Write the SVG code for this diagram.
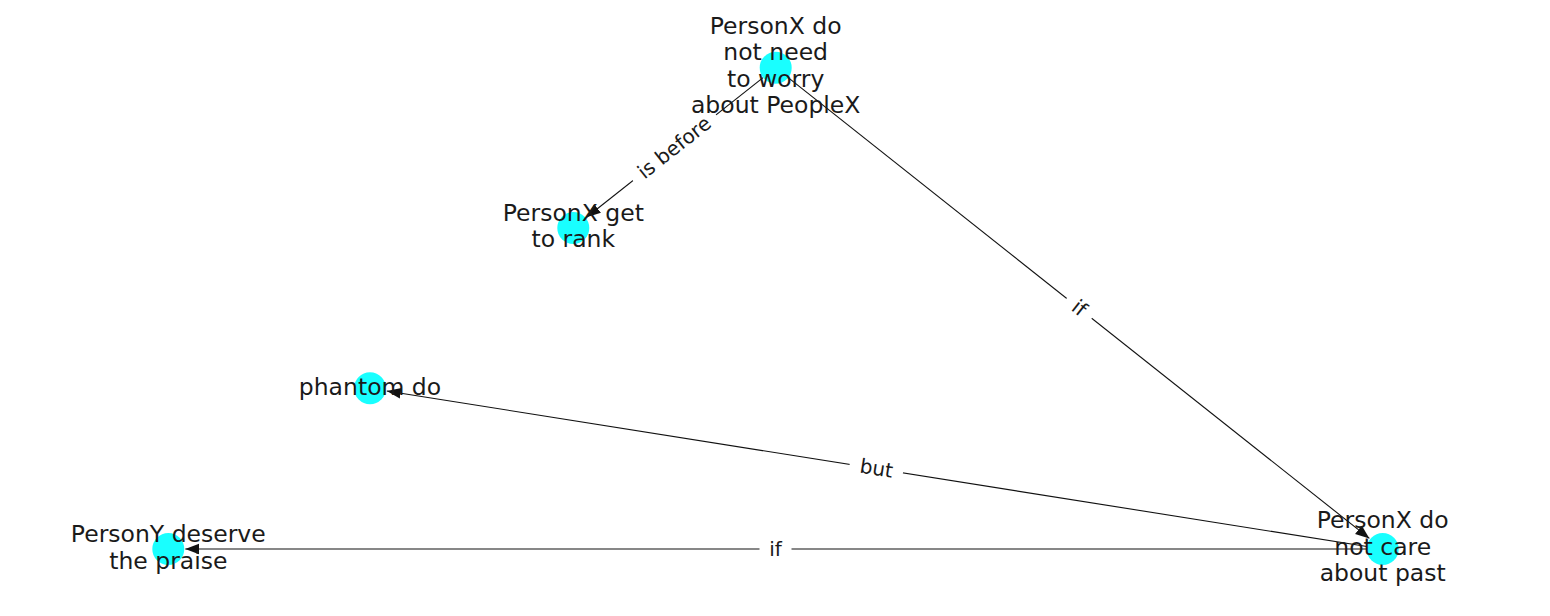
<svg xmlns="http://www.w3.org/2000/svg" width="1550" height="616" viewBox="0 0 1550 616">
<style>
.node circle{fill:#00ffff;fill-opacity:0.9}
.node text{font-family:"DejaVu Sans",sans-serif;font-size:23.5px;fill:#1a1a1a;text-anchor:middle}
.edge line{stroke:#111;stroke-width:1.1;marker-end:url(#arrow)}
.elabel rect{fill:#fff}
.elabel text{font-family:"DejaVu Sans",sans-serif;font-size:20px;fill:#1a1a1a;text-anchor:middle}
</style>
<defs>
<marker id="arrow" markerUnits="userSpaceOnUse" markerWidth="14" markerHeight="12" viewBox="0 0 13 10" refX="13" refY="5" orient="auto">
<path d="M0,0 L13,5 L0,10 Z" fill="#111"/>
</marker>
</defs>
<rect width="1550" height="616" fill="#fff"/>
<g id="edges">
<g class="edge"><line x1="763.1" y1="77.6" x2="586.6" y2="217.2"/></g>
<g class="edge"><line x1="788.2" y1="77.6" x2="1369.4" y2="538.4"/></g>
<g class="edge"><line x1="1366.9" y1="546.5" x2="386.8" y2="391.0"/></g>
<g class="edge"><line x1="1366.7" y1="549" x2="185.3" y2="549"/></g>
<g class="elabel" transform="translate(674.5 147.7) rotate(-38.3)"><rect x="-53" y="-14" width="106" height="28" rx="4"/><text y="6.5">is before</text></g>
<g class="elabel" transform="translate(1079.2 308.3) rotate(38.4)"><rect x="-16" y="-14" width="32" height="28" rx="4"/><text y="6.5">if</text></g>
<g class="elabel" transform="translate(876.3 468.6) rotate(9)"><rect x="-27" y="-14" width="54" height="28" rx="4"/><text y="6.5">but</text></g>
<g class="elabel" transform="translate(775.5 549)"><rect x="-16" y="-14" width="32" height="28" rx="4"/><text y="6.5">if</text></g>
</g>
<g id="node-A" class="node"><circle cx="775.7" cy="67.7" r="16"/><text x="775.7"><tspan x="775.7" y="33.5">PersonX do</tspan><tspan x="775.7" y="60">not need</tspan><tspan x="775.7" y="86.5">to worry</tspan><tspan x="775.7" y="113">about PeopleX</tspan></text></g>
<g id="node-B" class="node"><circle cx="573.3" cy="228" r="16"/><text><tspan x="573.3" y="220.8">PersonX get</tspan><tspan x="573.3" y="247.2">to rank</tspan></text></g>
<g id="node-C" class="node"><circle cx="370" cy="388.3" r="16"/><text x="370" y="394.8">phantom do</text></g>
<g id="node-D" class="node"><circle cx="168.3" cy="549" r="16"/><text><tspan x="168.3" y="542.3">PersonY deserve</tspan><tspan x="168.3" y="568.7">the praise</tspan></text></g>
<g id="node-E" class="node"><circle cx="1382.7" cy="549" r="16"/><text><tspan x="1382.7" y="528">PersonX do</tspan><tspan x="1382.7" y="554.5">not care</tspan><tspan x="1382.7" y="581">about past</tspan></text></g>
</svg>
